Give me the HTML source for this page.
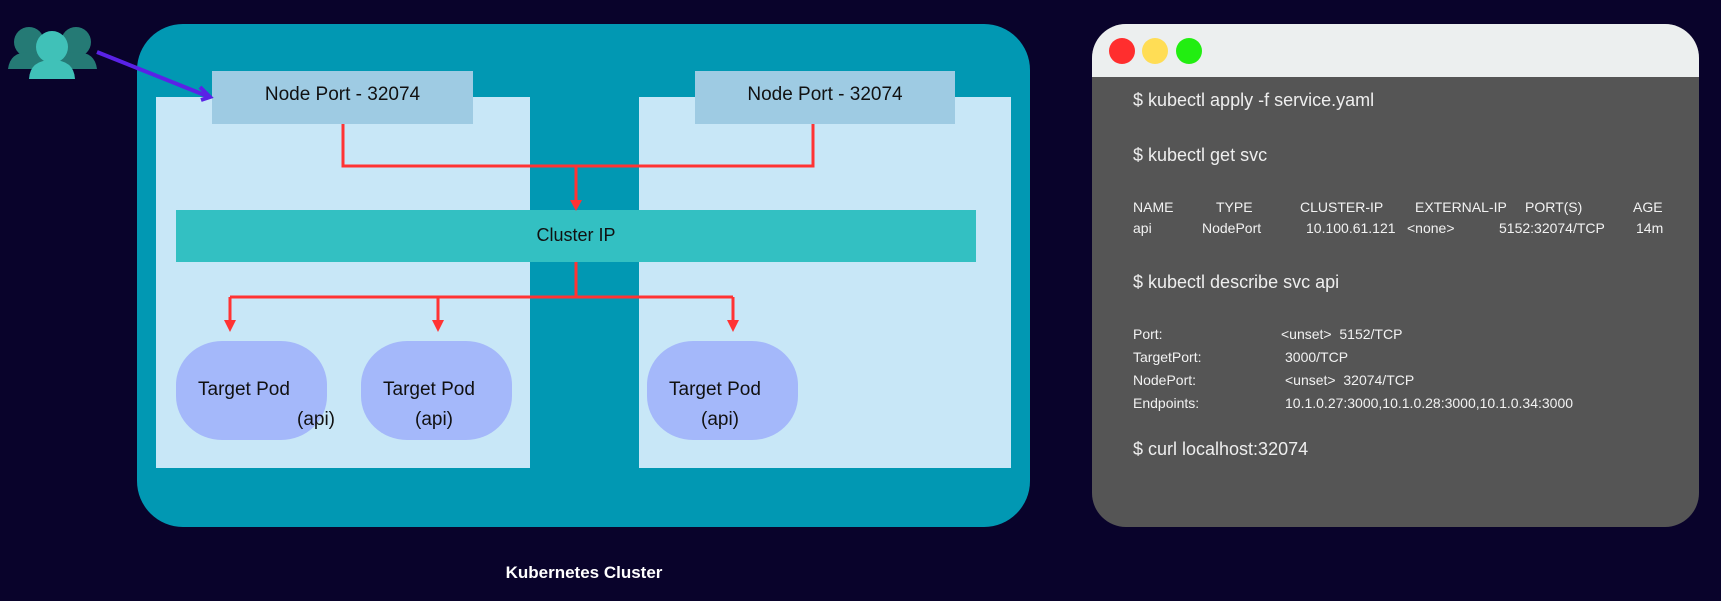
<!DOCTYPE html>
<html><head><meta charset="utf-8"><style>
*{margin:0;padding:0;box-sizing:border-box}
body{width:1721px;height:601px;background:#09032b;position:relative;overflow:hidden;font-family:"Liberation Sans",sans-serif}
.a{position:absolute}
.t{position:absolute;white-space:nowrap}
.pod{position:absolute;background:#a4b8fa;border-radius:46px/44px;width:151px;height:99px;top:341px}
.pt{position:absolute;font-size:19px;color:#111;white-space:nowrap}
.cmd{position:absolute;left:1133px;color:#eee;font-size:18px;white-space:nowrap}
.s{position:absolute;color:#f2f2f2;font-size:14px;white-space:nowrap}
</style></head><body>
<div class="a" style="left:137px;top:24px;width:893px;height:503px;background:#0198b3;border-radius:46px"></div>
<div class="a" style="left:156px;top:97px;width:374px;height:371px;background:#c8e7f7"></div>
<div class="a" style="left:639px;top:97px;width:372px;height:371px;background:#c8e7f7"></div>
<div class="a" style="left:212px;top:71px;width:261px;height:53px;background:#9ecbe3"></div>
<div class="a" style="left:695px;top:71px;width:260px;height:53px;background:#9ecbe3"></div>
<div class="t" style="left:212px;top:84px;width:261px;text-align:center;font-size:19px;color:#111">Node Port - 32074</div>
<div class="t" style="left:695px;top:84px;width:260px;text-align:center;font-size:19px;color:#111">Node Port - 32074</div>
<div class="a" style="left:176px;top:210px;width:800px;height:52px;background:#33c0c2"></div>
<div class="t" style="left:176px;top:225px;width:800px;text-align:center;font-size:18px;color:#111">Cluster IP</div>
<div class="pod" style="left:176px"></div>
<div class="pod" style="left:361px"></div>
<div class="pod" style="left:647px"></div>
<div class="pt" style="left:198px;top:379px">Target Pod</div>
<div class="pt" style="left:297px;top:409px">(api)</div>
<div class="pt" style="left:383px;top:379px">Target Pod</div>
<div class="pt" style="left:415px;top:409px">(api)</div>
<div class="pt" style="left:669px;top:379px">Target Pod</div>
<div class="pt" style="left:701px;top:409px">(api)</div>
<svg class="a" style="left:0;top:0" width="1721" height="601">
<g stroke="#ff3333" stroke-width="3" fill="none">
<polyline points="343,124 343,166 813,166 813,124"/>
<line x1="576" y1="166" x2="576" y2="202"/>
<line x1="576" y1="262" x2="576" y2="297"/>
<line x1="230" y1="297" x2="733" y2="297"/>
<line x1="230" y1="297" x2="230" y2="323"/>
<line x1="438" y1="297" x2="438" y2="323"/>
<line x1="733" y1="297" x2="733" y2="323"/>
</g>
<g fill="#ff3333">
<polygon points="570,200 582,200 576,211"/>
<polygon points="224,320 236,320 230,332"/>
<polygon points="432,320 444,320 438,332"/>
<polygon points="727,320 739,320 733,332"/>
</g>
<line x1="97" y1="52" x2="207" y2="96" stroke="#5a22e6" stroke-width="4"/>
<polyline points="200,87 210,97 201,100" stroke="#5a22e6" stroke-width="4" fill="none"/>
<g fill="#257a75">
<circle cx="29" cy="42" r="15"/><path d="M8,69 Q10,52 29,52 Q48,52 50,69 Z"/>
<circle cx="76" cy="42" r="15"/><path d="M55,69 Q57,52 76,52 Q95,52 97,69 Z"/>
</g>
<g fill="#40c1b8">
<circle cx="52" cy="47" r="16"/><path d="M29,79 Q30,60 52,60 Q74,60 75,79 Z"/>
</g>
</svg>
<div class="a" style="left:1092px;top:24px;width:607px;height:503px;background:#555;border-radius:34px;overflow:hidden">
<div class="a" style="left:0;top:0;width:607px;height:53px;background:#ecefef"></div>
</div>
<div class="a" style="left:1109px;top:38px;width:26px;height:26px;border-radius:50%;background:#ff2e2e"></div>
<div class="a" style="left:1142px;top:38px;width:26px;height:26px;border-radius:50%;background:#ffdd55"></div>
<div class="a" style="left:1176px;top:38px;width:26px;height:26px;border-radius:50%;background:#22ee11"></div>
<div class="cmd" style="top:90px">$ kubectl apply -f service.yaml</div>
<div class="cmd" style="top:145px">$ kubectl get svc</div>
<div class="s" style="left:1133px;top:199px">NAME</div>
<div class="s" style="left:1216px;top:199px">TYPE</div>
<div class="s" style="left:1300px;top:199px">CLUSTER-IP</div>
<div class="s" style="left:1415px;top:199px">EXTERNAL-IP</div>
<div class="s" style="left:1525px;top:199px">PORT(S)</div>
<div class="s" style="left:1633px;top:199px">AGE</div>
<div class="s" style="left:1133px;top:220px">api</div>
<div class="s" style="left:1202px;top:220px">NodePort</div>
<div class="s" style="left:1306px;top:220px">10.100.61.121</div>
<div class="s" style="left:1407px;top:220px">&lt;none&gt;</div>
<div class="s" style="left:1499px;top:220px">5152:32074/TCP</div>
<div class="s" style="left:1636px;top:220px">14m</div>
<div class="cmd" style="top:272px">$ kubectl describe svc api</div>
<div class="s" style="left:1133px;top:326px">Port:</div>
<div class="s" style="left:1281px;top:326px">&lt;unset&gt;&nbsp; 5152/TCP</div>
<div class="s" style="left:1133px;top:349px">TargetPort:</div>
<div class="s" style="left:1285px;top:349px">3000/TCP</div>
<div class="s" style="left:1133px;top:372px">NodePort:</div>
<div class="s" style="left:1285px;top:372px">&lt;unset&gt;&nbsp; 32074/TCP</div>
<div class="s" style="left:1133px;top:395px">Endpoints:</div>
<div class="s" style="left:1285px;top:395px">10.1.0.27:3000,10.1.0.28:3000,10.1.0.34:3000</div>
<div class="cmd" style="top:439px">$ curl localhost:32074</div>
<div class="t" style="left:484px;top:563px;width:200px;text-align:center;color:#fff;font-weight:bold;font-size:17px">Kubernetes Cluster</div>
</body></html>
